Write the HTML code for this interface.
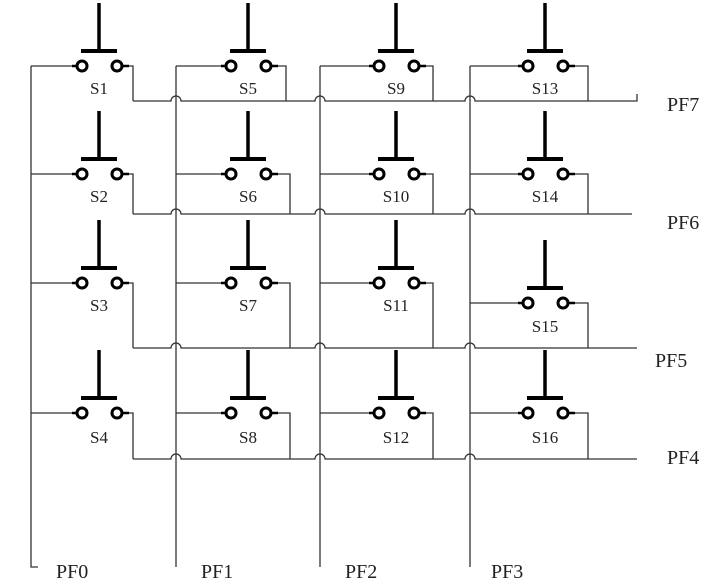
<!DOCTYPE html>
<html><head><meta charset="utf-8"><style>
html,body{margin:0;padding:0;background:#fff;}
svg{display:block;}
text{font-family:"Liberation Serif",serif;font-size:17px;fill:#222;}
text.pf{font-size:20px;}
</style></head><body>
<svg width="713" height="583" viewBox="0 0 713 583" xmlns="http://www.w3.org/2000/svg">
<defs>
<g id="sw">
<line x1="0" y1="-63" x2="0" y2="-15" stroke="#000" stroke-width="3.5"/>
<line x1="-18" y1="-15" x2="18" y2="-15" stroke="#000" stroke-width="4"/>
<line x1="-27" y1="0" x2="-22" y2="0" stroke="#000" stroke-width="2.5"/>
<line x1="23" y1="0" x2="30" y2="0" stroke="#000" stroke-width="2.5"/>
<circle cx="-17" cy="0" r="5" fill="#fff" stroke="#000" stroke-width="3"/>
<circle cx="18" cy="0" r="5" fill="#fff" stroke="#000" stroke-width="3"/>
</g>
</defs>
<g fill="none" stroke="#333" stroke-width="1.3">
<path d="M31 66 V567 H38"/>
<path d="M176 66 V567"/>
<path d="M320 66 V567"/>
<path d="M470 66 V567"/>
<path d="M133 101 H171 a5 5 0 0 1 10 0 H315 a5 5 0 0 1 10 0 H465 a5 5 0 0 1 10 0 H637 V94"/>
<path d="M133 214 H171 a5 5 0 0 1 10 0 H315 a5 5 0 0 1 10 0 H465 a5 5 0 0 1 10 0 H632"/>
<path d="M133 348 H171 a5 5 0 0 1 10 0 H315 a5 5 0 0 1 10 0 H465 a5 5 0 0 1 10 0 H637"/>
<path d="M133 459 H171 a5 5 0 0 1 10 0 H315 a5 5 0 0 1 10 0 H465 a5 5 0 0 1 10 0 H637"/>
<path d="M31 66 H72 M125 66 H133 V101"/>
<path d="M31 174 H72 M125 174 H133 V214"/>
<path d="M31 283 H72 M125 283 H133 V348"/>
<path d="M31 413 H72 M125 413 H133 V459"/>
<path d="M176 66 H221 M274 66 H286 V101"/>
<path d="M176 174 H221 M274 174 H290 V214"/>
<path d="M176 283 H221 M274 283 H290 V348"/>
<path d="M176 413 H221 M274 413 H290 V459"/>
<path d="M320 66 H369 M422 66 H433 V101"/>
<path d="M320 174 H369 M422 174 H433 V214"/>
<path d="M320 283 H369 M422 283 H433 V348"/>
<path d="M320 413 H369 M422 413 H433 V459"/>
<path d="M470 66 H518 M571 66 H588 V101"/>
<path d="M470 174 H518 M571 174 H588 V214"/>
<path d="M470 303 H518 M571 303 H588 V348"/>
<path d="M470 413 H518 M571 413 H588 V459"/>
</g>
<use href="#sw" x="99" y="66"/><use href="#sw" x="99" y="174"/><use href="#sw" x="99" y="283"/><use href="#sw" x="99" y="413"/>
<use href="#sw" x="248" y="66"/><use href="#sw" x="248" y="174"/><use href="#sw" x="248" y="283"/><use href="#sw" x="248" y="413"/>
<use href="#sw" x="396" y="66"/><use href="#sw" x="396" y="174"/><use href="#sw" x="396" y="283"/><use href="#sw" x="396" y="413"/>
<use href="#sw" x="545" y="66"/><use href="#sw" x="545" y="174"/><use href="#sw" x="545" y="303"/><use href="#sw" x="545" y="413"/>
<g text-anchor="middle">
<text x="99" y="94">S1</text><text x="99" y="202">S2</text><text x="99" y="311">S3</text><text x="99" y="443">S4</text>
<text x="248" y="94">S5</text><text x="248" y="202">S6</text><text x="248" y="311">S7</text><text x="248" y="443">S8</text>
<text x="396" y="94">S9</text><text x="396" y="202">S10</text><text x="396" y="311">S11</text><text x="396" y="443">S12</text>
<text x="545" y="94">S13</text><text x="545" y="202">S14</text><text x="545" y="332">S15</text><text x="545" y="443">S16</text>
</g>
<text class="pf" x="667" y="111">PF7</text>
<text class="pf" x="667" y="229">PF6</text>
<text class="pf" x="655" y="367">PF5</text>
<text class="pf" x="667" y="464">PF4</text>
<text class="pf" x="56" y="578">PF0</text>
<text class="pf" x="201" y="578">PF1</text>
<text class="pf" x="345" y="578">PF2</text>
<text class="pf" x="491" y="578">PF3</text>
</svg>
</body></html>
